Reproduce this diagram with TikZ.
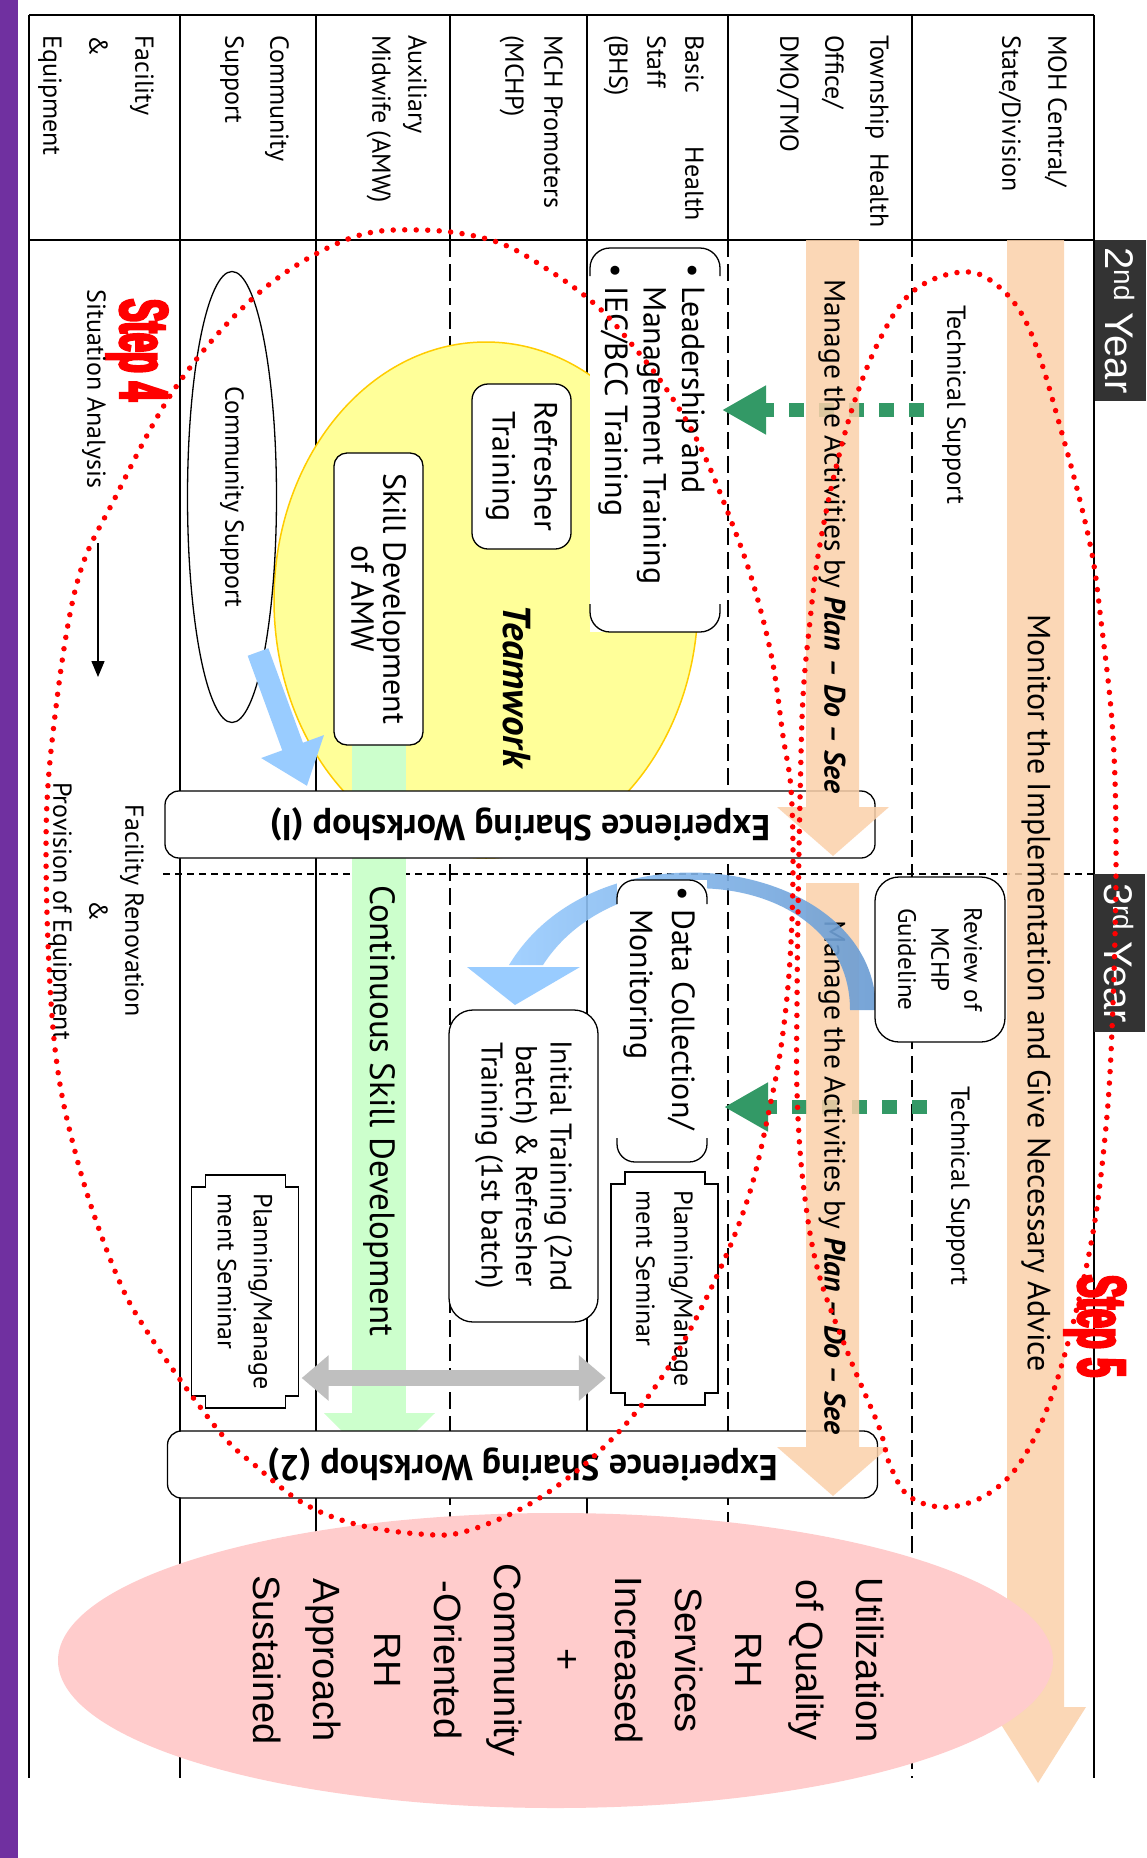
\documentclass[tikz,border=0pt]{standalone}
\usepackage{fontspec}
\setmainfont{PT Sans}
\newfontfamily\arl{Liberation Sans}
\newfontfamily\stepf[FakeStretch=0.5,FakeBold=4]{Liberation Sans}
\usetikzlibrary{shapes.geometric,arrows.meta}

\definecolor{purplec}{RGB}{112,48,160}
\definecolor{peachc}{RGB}{251,208,170}
\definecolor{yellowc}{RGB}{255,255,153}
\definecolor{goldc}{RGB}{255,204,0}
\definecolor{greenb}{RGB}{204,255,204}
\definecolor{tgreen}{RGB}{51,153,102}
\definecolor{lblue}{RGB}{153,204,255}
\definecolor{dblue}{RGB}{105,155,210}
\definecolor{greyc}{RGB}{191,191,191}
\definecolor{pinkc}{RGB}{255,204,204}
\definecolor{ybox}{RGB}{51,51,51}

% notched seminar box: centre x, centre y
\newcommand{\plaque}[2]{%
  \draw[line width=1.3pt, fill=white] (#1-53.5,#2-104.5) -- (#1-39.5,#2-104.5) -- (#1-39.5,#2-116.5)
    -- (#1+40.5,#2-116.5) -- (#1+40.5,#2-104.5) -- (#1+53.5,#2-104.5) -- (#1+53.5,#2+104.5)
    -- (#1+40.5,#2+104.5) -- (#1+40.5,#2+116.5) -- (#1-39.5,#2+116.5) -- (#1-39.5,#2+104.5)
    -- (#1-53.5,#2+104.5) -- cycle;}

\begin{document}
\begin{tikzpicture}[x=1pt,y=-1pt,
  lane/.style={line width=1.5pt},
  lanedash/.style={line width=1.5pt, dash pattern=on 17pt off 7pt},
  hdr/.style={rotate=-90, anchor=north west, inner sep=0pt, align=left},
  vtxt/.style={rotate=-90, inner sep=0pt, align=center},
  rbox/.style={rotate=-90, draw, line width=1.3pt, fill=white, rounded corners=16pt, align=center, inner sep=0pt},
  wshop/.style={rotate=180, draw, line width=1.3pt, fill=white, rounded corners=14pt, minimum width=710pt,
    minimum height=67pt, inner sep=0pt, font=\bfseries\fontsize{36}{36}\selectfont},
  peachfill/.style={fill=peachc, fill opacity=0.85},
  redloop/.style={red, line width=5.5pt, line cap=round, dash pattern=on 0pt off 11.5pt},
  gdash/.style={line width=14pt, tgreen, dash pattern=on 15pt off 15pt, -{Triangle[width=46pt,length=44pt]}},
  yearbox/.style={rotate=-90, fill=ybox, text=white, minimum height=51pt, inner sep=0pt,
    font=\arl\fontsize{40}{40}\selectfont},
  steptxt/.style={rotate=-90, text=red, inner sep=0pt, font=\stepf\bfseries\fontsize{68}{68}\selectfont},
]
\useasboundingbox (0,0) rectangle (1146,1858);
\fill[white] (0,0) rectangle (1146,1858);
\fill[purplec] (0,0) rectangle (18,1858);

%table
\draw[lane] (29,15) -- (1094,15);
\draw[lane] (29,240) -- (1094,240);
\foreach \x in {29,180,316,587,1094} \draw[lane] (\x,15) -- (\x,1778);
\foreach \x in {450,728,912} {
  \draw[lane] (\x,15) -- (\x,240);
  \draw[lanedash] (\x,240) -- (\x,1778);
}

%row labels
\node[hdr, font=\fontsize{26}{46}\selectfont] (hmoh) at (1067,35) {MOH Central/\\State/Division};
\node[hdr, font=\fontsize{26}{45}\selectfont] (htsp) at (889,35) {Township\ \ Health\\Office/\\DMO/TMO};
\node[hdr, text width=186pt, font=\fontsize{26}{38}\selectfont] (hbhs) at (704,35) {Basic\hfill Health\\Staff\\(BHS)};
\node[hdr, font=\fontsize{26}{39}\selectfont] (hmchp) at (563,35) {MCH Promoters\\(MCHP)};
\node[hdr, font=\fontsize{26}{36}\selectfont] (hamw) at (427,35) {Auxiliary\\Midwife (AMW)};
\node[hdr, font=\fontsize{26}{45}\selectfont] (hcom) at (289,35) {Community\\Support};
\node[hdr, font=\fontsize{26}{46}\selectfont] (hfac) at (154,35) {Facility\\\&\\Equipment};

%teamwork circle and skill band
\draw[goldc, line width=1.5pt, fill=yellowc] (486,600) ellipse (212 and 258);
\draw[line width=1.2pt, dash pattern=on 7pt off 5pt] (163,874) -- (1094,874);
\fill[greenb] (352,745) rectangle (406,1413);
\fill[greenb] (324,1413) -- (435,1413) -- (379,1468) -- cycle;
\node[vtxt, font=\fontsize{35}{35}\selectfont] (csd) at (379,1111) {Continuous Skill Development};

%workshops
\node[wshop] (ws1) at (520,824.5) {Experience Sharing Workshop (I)};
\node[wshop] (ws2) at (522.5,1464.5) {Experience Sharing Workshop (2)};

%boxes
\node[rotate=-90, fill=white, minimum width=384pt, minimum height=130pt, inner sep=0pt] (lead) at (655,440) {};
\draw[line width=1.3pt, rounded corners=20pt] (590,276) -- (590,248) -- (720,248) -- (720,276);
\draw[line width=1.3pt, rounded corners=20pt] (590,604) -- (590,632) -- (720,632) -- (720,604);
\node[vtxt, align=left, font=\fontsize{32}{38.5}\selectfont] (leadtxt) at (651.5,424)
  {\textbullet\ Leadership and\\\phantom{\textbullet\ }Management Training\\\textbullet\ IEC/BCC Training};
\node[rbox, minimum width=165pt, minimum height=99pt, font=\fontsize{32}{42}\selectfont] (refresh) at (521.5,466.5) {Refresher\\Training};
\node[rbox, minimum width=292pt, minimum height=89pt, rounded corners=13pt, font=\fontsize{32}{32}\selectfont] (skill) at (378.5,599) {Skill Development\\of AMW};
\node[vtxt, draw, ellipse, line width=1.3pt, fill=white, minimum width=451pt, minimum height=89pt, font=\fontsize{26}{26}\selectfont] (cs) at (232,497) {Community Support};
\node[vtxt, font=\bfseries\itshape\fontsize{39}{39}\selectfont] (team) at (517,686) {Teamwork};
\node[rbox, minimum width=312pt, minimum height=149pt, rounded corners=24pt, font=\fontsize{30}{34.5}\selectfont] (init) at (523.5,1166)
  {Initial Training (2nd\\batch) \& Refresher\\Training (1st batch)};

%plan-do-see arrows
\fill[peachfill] (1007,240) -- (1064,240) -- (1064,1707) -- (1086,1707) -- (1038,1783) -- (990,1707) -- (1007,1707) -- cycle;
\coordinate (g1s) at (924,410);
\coordinate (g1e) at (722,410);
\coordinate (g2s) at (927,1107);
\coordinate (g2e) at (724,1107);
\draw[gdash] (g1s) -- (g1e);
\draw[gdash] (g2s) -- (g2e);
\fill[peachfill] (806,240) -- (859,240) -- (859,807) -- (889,807) -- (833,856) -- (777,807) -- (806,807) -- cycle;
\fill[peachfill] (806,883) -- (859,883) -- (859,1447) -- (889,1447) -- (833,1496) -- (777,1447) -- (806,1447) -- cycle;
\node[vtxt, font=\fontsize{32}{32}\selectfont] (mon) at (1036,993) {Monitor the Implementation and Give Necessary Advice};
\node[vtxt, font=\fontsize{29.5}{29.5}\selectfont] (pds1) at (832,536.5) {Manage the Activities by \textbf{\textit{Plan – Do – See}}};
\node[vtxt, font=\fontsize{29.5}{29.5}\selectfont] (pds2) at (832,1177.5) {Manage the Activities by \textbf{\textit{Plan – Do – See}}};
\node[vtxt, font=\fontsize{26}{26}\selectfont] (ts1) at (954,405) {Technical Support};
\node[vtxt, font=\fontsize{26}{26}\selectfont] (ts2) at (958,1186) {Technical Support};

%curved arrow to initial training
\shade[left color=lblue, right color=dblue, opacity=0.9] (876,1010) .. controls (876,860) and (600,815) .. (509,965)
  -- (543,965) .. controls (620,845) and (850,870) .. (850,1010) -- cycle;
\fill[lblue] (467,967) -- (580,967) -- (515,1005) -- cycle;
\node[rbox, minimum width=165pt, minimum height=130pt, rounded corners=24pt, font=\fontsize{25}{33}\selectfont] (review) at (940,959.5) {Review of\\MCHP\\Guideline};
\node[rotate=-90, fill=white, minimum width=282pt, minimum height=90pt, inner sep=0pt] (datab) at (662,1021) {};
\draw[line width=1.3pt, rounded corners=18pt] (617,904) -- (617,880) -- (707,880) -- (707,904);
\draw[line width=1.3pt, rounded corners=18pt] (617,1138) -- (617,1162) -- (707,1162) -- (707,1138);
\node[vtxt, align=left, font=\fontsize{32}{42}\selectfont] (datatxt) at (659,1008)
  {\textbullet\ Data Collection/\\\phantom{\textbullet\ }Monitoring};

%seminars
\plaque{664.5}{1288.5}
\plaque{245}{1291.5}
\node[vtxt, align=left, minimum width=233pt, minimum height=107pt, font=\fontsize{26}{38}\selectfont] (pm1) at (664.5,1288.5) {Planning/Manage\\ment Seminar};
\node[vtxt, align=left, minimum width=233pt, minimum height=107pt, font=\fontsize{26}{36}\selectfont] (pm2) at (245,1291.5) {Planning/Manage\\ment Seminar};
\coordinate (gy) at (0,1378);
\draw[greyc, line width=16pt, {Triangle[width=44pt,length=27pt]}-{Triangle[width=44pt,length=27pt]}, shorten <=3pt, shorten >=5pt]
  (pm2.north |- gy) -- (pm1.south |- gy);

%community support to AMW
\coordinate (b1s) at (258,652);
\coordinate (b1e) at (307,786);
\draw[lblue, line width=22pt, -{Triangle[width=64pt,length=42pt]}] (b1s) -- (b1e);

%step 4
\node[steptxt] (st4) at (137,350) {Step 4};
\node[vtxt, font=\fontsize{26}{26}\selectfont] (sitan) at (94,389) {Situation Analysis};
\coordinate (sa1) at (98,543);
\coordinate (sa2) at (98,677);
\draw[line width=1.5pt, -{Triangle[width=13pt,length=16pt]}] (sa1) -- (sa2);
\node[vtxt, font=\fontsize{26}{36}\selectfont] (facren) at (96,911) {Facility Renovation\\\&\\Provision of Equipment};

%goal
\node[ellipse, fill=pinkc, minimum width=995pt, minimum height=295pt, inner sep=0pt] (goal) at (555.5,1660.5) {};
\node[vtxt, font=\arl\fontsize{38}{60.3}\selectfont] (goaltxt) at (568.5,1660)
  {Utilization\\of Quality\\RH\\Services\\Increased\\+\\Community\\-Oriented\\RH\\Approach\\Sustained};

%years
\node[yearbox, minimum width=161pt] (y2) at (1120,320.5) {2\textsuperscript{nd} Year};
\node[yearbox, minimum width=158pt] (y3) at (1119,953) {3\textsuperscript{rd} Year};
\node[steptxt] (st5) at (1095,1326) {Step 5};

%cycles
\draw[redloop] plot[smooth cycle, tension=0.6] coordinates {
  (421,230) (348,239) (260,292) (178,384) (115,498) (77,583) (54,724) (46,850) (54,1039) (77,1159)
  (115,1271) (150,1336) (218,1430) (257,1467) (303,1503) (355,1524) (420,1534) (467,1531) (538,1499)
  (609,1442) (666,1371) (715,1280) (749,1195) (770,1106) (782,1040) (790,960) (793,870) (791,789)
  (783,736) (772,659) (753,583) (730,518) (699,444) (667,390) (634,347) (598,307) (550,271) (494,241)};
\draw[redloop] plot[smooth cycle, tension=0.6] coordinates {
  (954,273) (990,280) (1028,326) (1063,437) (1090,544) (1101,621) (1113,736) (1116,869) (1112,1030)
  (1105,1137) (1090,1249) (1059,1374) (1028,1450) (994,1490) (950,1507) (910,1497) (890,1465) (879,1427)
  (849,1356) (818,1271) (803,1182) (797,1092) (797,1003) (798,914) (800,800) (803,697) (810,621)
  (818,556) (833,480) (854,403) (880,339) (911,293)};
\end{tikzpicture}
\end{document}
